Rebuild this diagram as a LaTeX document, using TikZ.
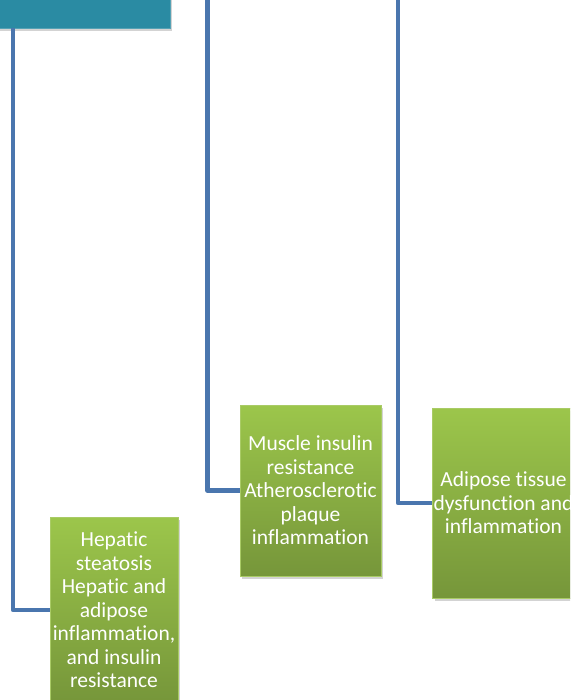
\documentclass[tikz,border=0pt]{standalone}
\usepackage{fontspec}
\setmainfont[Ligatures=NoCommon]{Carlito}
\usepackage{xcolor}
\usepackage{tikz}
\usetikzlibrary{positioning,shadows}
\definecolor{headteal}{HTML}{2A8BA3}
\definecolor{linkblue}{HTML}{4A76AE}
\definecolor{greentop}{HTML}{9CC64B}
\definecolor{greenbot}{HTML}{76963A}
\definecolor{greenedge}{HTML}{A9CB66}

\begin{document}
\begin{tikzpicture}[x=1pt, y=-1pt,
  headbox/.style={rectangle, fill=headteal, draw=headteal!80!white, drop shadow={shadow xshift=2pt, shadow yshift=-3pt, opacity=.35}},
  effectbox/.style={rectangle, top color=greentop, bottom color=greenbot, draw=greenedge, line width=0.8pt, minimum width=141pt, inner xsep=1pt, align=center, text=white, font=\fontsize{21.5}{23.5}\selectfont, drop shadow={shadow xshift=2pt, shadow yshift=-3pt, opacity=.35}},
  link/.style={draw=linkblue, line width=4.5pt, line join=round}]
\useasboundingbox (0,0) rectangle (570,700);
\clip (0,0) rectangle (570,700);

\node[headbox, minimum width=200pt, minimum height=40pt] at (70,8) (head) {};

\coordinate (top2) at (207.5,-5);
\coordinate (top3) at (398,-5);

\node[effectbox, minimum width=128pt, minimum height=186pt] at (114,610) (hepatic) {Hepatic\\steatosis\\Hepatic and\\adipose\\inflammation,\\and insulin\\resistance};
\node[effectbox, minimum height=171pt] at (310.5,490.5) (muscle) {Muscle insulin\\resistance\\Atherosclerotic\\plaque\\inflammation};
\node[effectbox, minimum height=190pt] at (503.5,503) (adipose) {Adipose tissue\\dysfunction and\\inflammation};

\draw[link] (head.south -| 13,0) |- (hepatic.west);
\draw[link] (top2) |- (muscle.west);
\draw[link] (top3) |- (adipose.west);

\end{tikzpicture}
\end{document}
